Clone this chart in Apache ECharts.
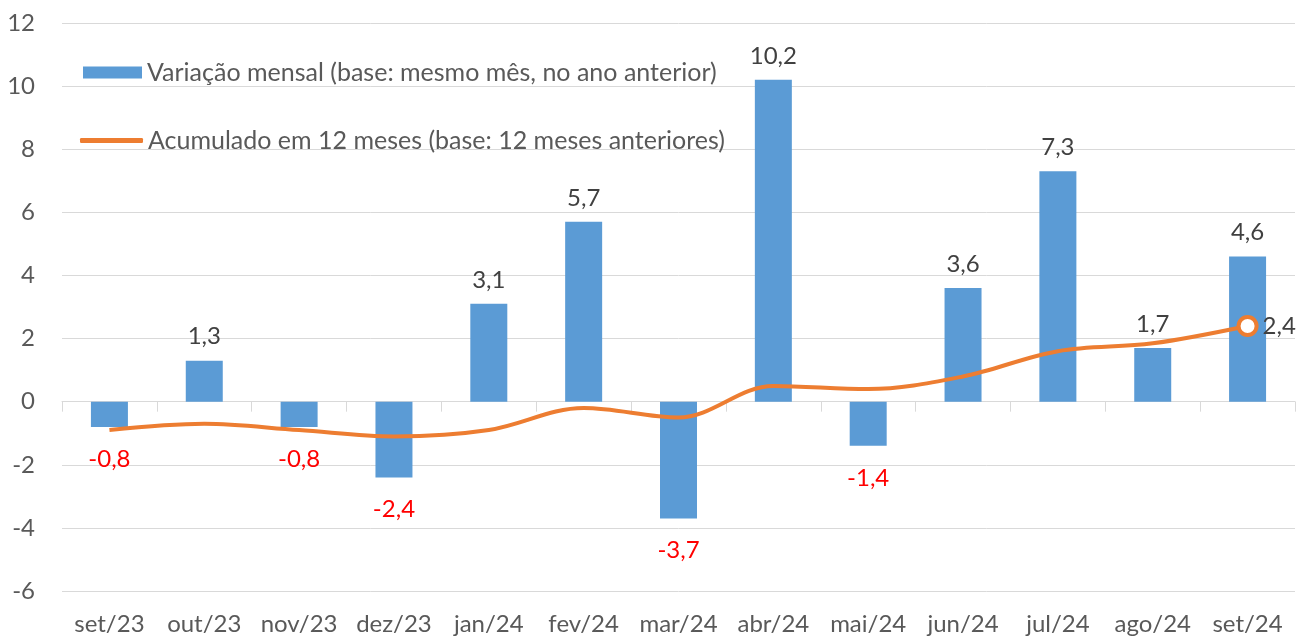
<!DOCTYPE html>
<html><head><meta charset="utf-8">
<script src="https://cdn.jsdelivr.net/npm/echarts@6/dist/echarts.min.js"></script>
<style>html,body{margin:0;padding:0;background:#fff}#c{width:1301px;height:636px}</style>
</head><body><div id="c"></div>
<script>
const categories = ['set/23','out/23','nov/23','dez/23','jan/24','fev/24','mar/24','abr/24','mai/24','jun/24','jul/24','ago/24','set/24'];
const monthly = [-0.8, 1.3, -0.8, -2.4, 3.1, 5.7, -3.7, 10.2, -1.4, 3.6, 7.3, 1.7, 4.6];
const accum12 = [-0.9, -0.7, -0.9, -1.1, -0.9, -0.2, -0.5, 0.5, 0.4, 0.8, 1.6, 1.85, 2.4];
const barName = 'Variação mensal (base: mesmo mês, no ano anterior)';
const lineName = 'Acumulado em 12 meses (base: 12 meses anteriores)';

const FONT = 'Lato';
const FS = 24;
const FS_LEG = 25;
const fmt = v => v.toFixed(1).replace('.', ',');

const barData = monthly.map(v => ({
  value: v,
  label: v >= 0
    ? {show: true, position: 'top', distance: 12, color: '#404040', formatter: p => fmt(p.value)}
    : {show: true, position: 'bottom', distance: 20, color: '#FF0000', formatter: p => fmt(p.value)}
}));
const last = accum12.length - 1;
const lineData = accum12.map((v, i) => i === last
  ? {value: v, symbol: 'circle', symbolSize: 18,
     itemStyle: {color: '#fff', borderColor: '#ED7D31', borderWidth: 4},
     label: {show: true, position: 'right', distance: 4, color: '#404040', formatter: p => fmt(p.value)}}
  : {value: v, symbol: 'none', symbolSize: 0});

const chart = echarts.init(document.getElementById('c'), null, {renderer: 'canvas'});
chart.setOption({
  animation: false,
  textStyle: {fontFamily: FONT, fontSize: FS, color: '#595959'},
  grid: {left: 62, right: 6, top: 23, bottom: 45, containLabel: false},
  legend: [
    {data: [{name: barName, icon: 'rect'}], left: 78, top: 55, itemWidth: 59, itemHeight: 12,
     textStyle: {fontFamily: FONT, fontSize: FS_LEG, color: '#595959'}},
    {data: [{name: lineName, icon: 'roundRect'}], left: 75, top: 123, itemWidth: 63, itemHeight: 5,
     itemStyle: {color: '#ED7D31'},
     textStyle: {fontFamily: FONT, fontSize: FS_LEG, color: '#595959'}}
  ],
  xAxis: [
    {type: 'category', data: categories, boundaryGap: true,
     axisLine: {onZero: true, lineStyle: {color: '#d9d9d9', width: 1}},
     axisTick: {show: true, length: 10, lineStyle: {color: '#d9d9d9'}},
     axisLabel: {show: false}, splitLine: {show: false}},
    {type: 'category', data: categories, position: 'bottom', boundaryGap: true,
     axisLine: {show: false, onZero: false}, axisTick: {show: false},
     axisLabel: {show: true, margin: 21, fontFamily: FONT, fontSize: FS, color: '#595959', interval: 0}}
  ],
  yAxis: {type: 'value', min: -6, max: 12, interval: 2,
    axisLine: {show: false}, axisTick: {show: false},
    axisLabel: {margin: 27, fontFamily: FONT, fontSize: FS, color: '#595959'},
    splitLine: {lineStyle: {color: '#d9d9d9', width: 1}}},
  series: [
    {name: barName, type: 'bar', xAxisIndex: 0, data: barData, barWidth: '39%',
     itemStyle: {color: '#5B9BD5'},
     label: {fontFamily: FONT, fontSize: FS}},
    {name: lineName, type: 'line', xAxisIndex: 0, data: lineData, smooth: 0.35,
     lineStyle: {color: '#ED7D31', width: 4}, itemStyle: {color: '#ED7D31'},
     label: {fontFamily: FONT, fontSize: FS}, z: 5}
  ]
});
</script></body></html>
